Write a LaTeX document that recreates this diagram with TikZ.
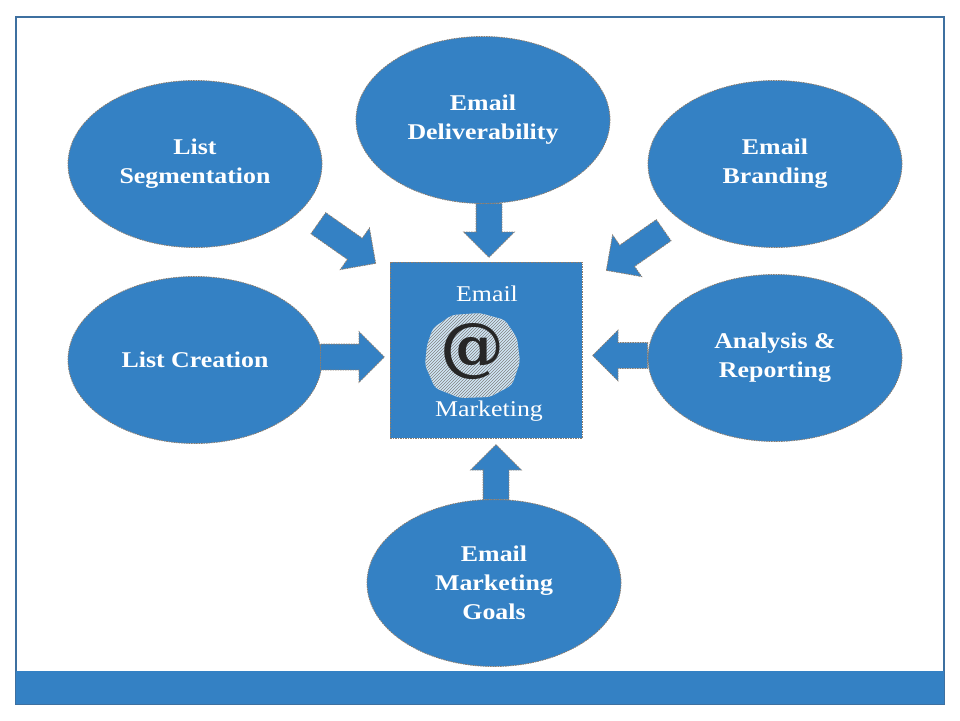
\documentclass[tikz,border=0pt]{standalone}
\usepackage{fontspec}
\setmainfont[FakeStretch=1.15]{Liberation Serif}
\newfontfamily\atfont{DejaVu Serif}
\usetikzlibrary{shapes.geometric,shapes.arrows,patterns}
\definecolor{mailblue}{RGB}{52,129,196}
\definecolor{framecol}{RGB}{62,112,160}
\definecolor{rimgray}{RGB}{140,125,110}
\definecolor{blobblue}{RGB}{208,230,245}
\tikzset{
  rim/.style={draw=rimgray, dash pattern=on 1.5pt off 1pt, line width=0.8pt},
  topic/.style={ellipse, rim, fill=mailblue, minimum width=254pt, minimum height=167pt,
    inner sep=0pt, align=center, text=white, font=\fontsize{22.5}{29}\selectfont\bfseries},
  push/.style={single arrow, rim, fill=mailblue, inner xsep=0pt, inner ysep=12.5pt,
    single arrow head extend=12.5pt, single arrow tip angle=90, anchor=tail},
  corelabel/.style={anchor=base, text=white, inner sep=0pt, font=\fontsize{22.5}{27}\selectfont},
}
\begin{document}
\begin{tikzpicture}[x=1pt,y=-1pt]
    \useasboundingbox (0,0) rectangle (960,720);
    \draw[framecol, line width=1.2pt] (16,17) rectangle (944,704);
    \fill[mailblue] (16,671) rectangle (944,704);
    % topics round the centre
    \node[topic] (seg) at (195,164) {List\\Segmentation};
    \node[topic] (deliv) at (483,120) {Email\\Deliverability};
    \node[topic] (brand) at (775,164) {Email\\Branding};
    \node[topic] (create) at (195,360) {List Creation};
    \node[topic] (report) at (775,358) {Analysis \&\\Reporting};
    \node[topic] (goals) at (494,583) {Email\\Marketing\\Goals};
    % centre box
    \node[rim, fill=mailblue, minimum width=192pt, minimum height=176pt] (core) at (486,350) {};
    \fill[blobblue, rounded corners=4pt] (433,328) -- (452,315) -- (480,313) -- (505,320) -- (517,338)
        -- (520,362) -- (512,385) -- (490,397) -- (460,398) -- (435,388) -- (425,365) -- (427,345) -- cycle;
    \fill[pattern=north east lines, pattern color=black!50, rounded corners=4pt] (433,328) -- (452,315)
        -- (480,313) -- (505,320) -- (517,338) -- (520,362) -- (512,385) -- (490,397) -- (460,398)
        -- (435,388) -- (425,365) -- (427,345) -- cycle;
    \node[text=black!85, font=\atfont\bfseries\fontsize{64}{64}\selectfont] (at) at (472,352) {@};
    \node[corelabel] (coreTop) at (487,301) {Email};
    \node[corelabel] (coreBot) at (489,416) {Marketing};
    % block arrows into the centre
    \node[push, minimum height=54pt, rotate=-90] (arrD) at (489,203) {};
    \node[push, minimum height=64pt] (arrL) at (320,357) {};
    \node[push, minimum height=55pt, rotate=180] (arrR) at (648,355.5) {};
    \node[push, minimum height=55pt, rotate=90] (arrU) at (496,500) {};
    \node[push, minimum height=70pt, rotate=-35] (arrTL) at (318,223) {};
    \node[push, minimum height=70pt, rotate=-145] (arrTR) at (664,230) {};
\end{tikzpicture}
\end{document}
